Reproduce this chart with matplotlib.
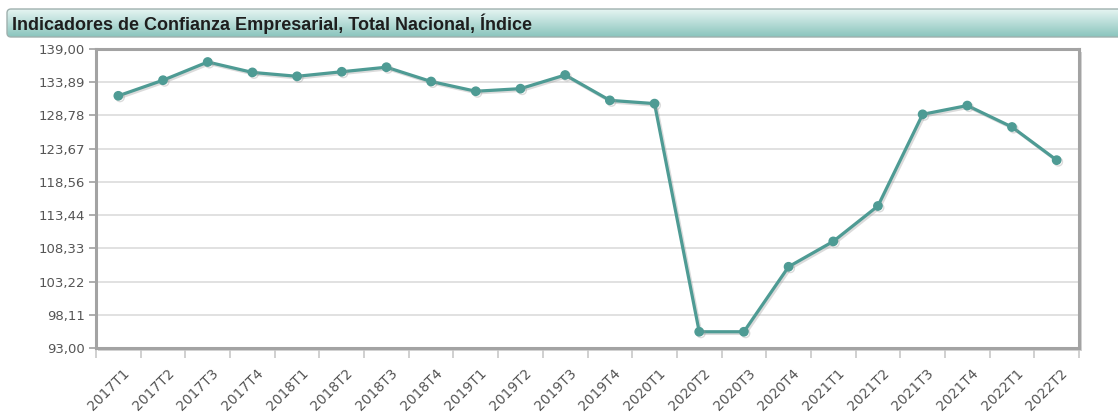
import matplotlib
matplotlib.use("Agg")
import matplotlib.pyplot as plt
import matplotlib.patheffects as pe
import matplotlib.transforms as mtrans
from matplotlib.patches import Rectangle, FancyBboxPatch
import numpy as np

title = "Indicadores de Confianza Empresarial, Total Nacional, Índice"
categories = ["2017T1", "2017T2", "2017T3", "2017T4",
              "2018T1", "2018T2", "2018T3", "2018T4",
              "2019T1", "2019T2", "2019T3", "2019T4",
              "2020T1", "2020T2", "2020T3", "2020T4",
              "2021T1", "2021T2", "2021T3", "2021T4",
              "2022T1", "2022T2"]
values = [131.8, 134.2, 137.0, 135.4,
          134.8, 135.5, 136.2, 134.0,
          132.5, 132.9, 135.0, 131.1,
          130.6, 95.5, 95.5, 105.5,
          109.4, 114.85, 128.95, 130.3,
          127.0, 121.9]
yticks = [93.00, 98.11, 103.22, 108.33, 113.44, 118.56, 123.67, 128.78, 133.89, 139.00]
ytick_labels = ["93,00", "98,11", "103,22", "108,33", "113,44",
                "118,56", "123,67", "128,78", "133,89", "139,00"]

W, H = 1118, 419
fig = plt.figure(figsize=(W / 100, H / 100), dpi=100)
fig.patch.set_facecolor("white")

# ---- title bar ----
tx0, ty0, tx1, ty1 = 7, 9, 1125, 37
tax = fig.add_axes([0, 0, 1, 1])
tax.set_xlim(0, W)
tax.set_ylim(H, 0)
tax.axis("off")
grad = np.linspace(0, 1, 64).reshape(-1, 1)
top = np.array([0.90, 0.96, 0.95])
bot = np.array([0.54, 0.77, 0.74])
img = top[None, None, :] * (1 - grad[:, :, None]) + bot[None, None, :] * grad[:, :, None]
box = FancyBboxPatch((tx0, ty0), tx1 - tx0, ty1 - ty0,
                     boxstyle="round,pad=0,rounding_size=4",
                     facecolor="none", edgecolor="#9fb0ae", linewidth=1.0,
                     transform=tax.transData, zorder=3)
tax.add_patch(box)
im = tax.imshow(img, aspect="auto", extent=[tx0, tx1, ty1, ty0], zorder=2)
im.set_clip_path(box)
tax.text(12, (ty0 + ty1) / 2 + 0.5, title,
         ha="left", va="center", fontsize=13, fontweight="bold",
         family=["Liberation Sans", "DejaVu Sans"], color="#1e1e1e", zorder=4)

# ---- main plot ----
px0, py0, px1, py1 = 96, 49, 1079, 348
ax = fig.add_axes([px0 / W, 1 - py1 / H, (px1 - px0) / W, (py1 - py0) / H])

# shadow behind frame
shadow = Rectangle((px0 + 2, H - py1 - 3), px1 - px0 + 1, py1 - py0,
                   transform=None, facecolor="#d4d4d4", edgecolor="none", zorder=-1)
fig.patches.append(shadow)

n = len(categories)
x = np.arange(n)
ax.set_xlim(-0.5, n - 0.5)
ax.set_ylim(93, 139)
ax.set_facecolor("white")

for yv in yticks[1:-1]:
    ax.axhline(yv, color="#dedede", linewidth=1.3, zorder=1)

line_color = "#4e9b94"
ax.plot(x, values, color=line_color, linewidth=2.3, marker="o", markersize=6,
        markerfacecolor=line_color, markeredgecolor=line_color, zorder=3,
        path_effects=[pe.SimpleLineShadow(offset=(1.2, -1.2), shadow_color="#999999", alpha=0.35),
                      pe.Normal()])

ax.set_yticks(yticks)
ax.set_yticklabels(ytick_labels)
ax.tick_params(axis="y", length=5, width=1.2, color="#a0a0a0", pad=3,
               labelsize=9.5, labelcolor="#555555")

ax.set_xticks(x)
ax.set_xticklabels(categories, rotation=45, ha="right", va="top",
                   rotation_mode="anchor")
ax.tick_params(axis="x", which="major", length=0, pad=13,
               labelsize=10, labelcolor="#555555")
off = mtrans.ScaledTranslation(4 / 100, 0, fig.dpi_scale_trans)
for lab in ax.get_xticklabels():
    lab.set_transform(lab.get_transform() + off)
ax.set_xticks(np.arange(n + 1) - 0.5, minor=True)
ax.tick_params(axis="x", which="minor", length=7, width=1.2, color="#c8c8c8")

for s in ax.spines.values():
    s.set_color("#a3a3a3")
    s.set_linewidth(2.2)

fig.savefig("out.png", dpi=100, facecolor="white")
